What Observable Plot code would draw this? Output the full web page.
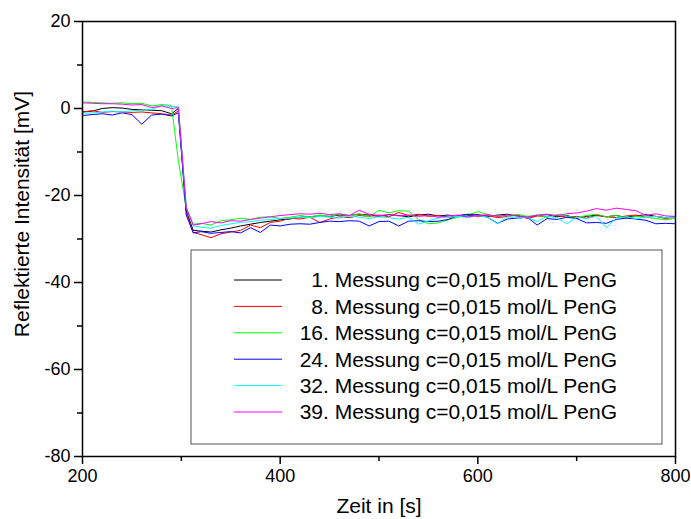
<!DOCTYPE html>
<html>
<head>
<meta charset="utf-8">
<script src="https://cdn.jsdelivr.net/npm/d3@7"></script>
<script src="https://cdn.jsdelivr.net/npm/@observablehq/plot@0.6"></script>
<style>
  html, body { margin: 0; padding: 0; background: #fff; }
  #chart { position: relative; width: 691px; height: 519px; }
</style>
</head>
<body>
<div id="chart"></div>
<script>
const times = [200,210,220,230,240,250,260,270,280,290,297,305,312,320,330,340,350,360,370,380,390,400,410,420,430,440,450,460,470,480,490,500,510,520,530,540,550,560,570,580,590,600,610,620,630,640,650,660,670,680,690,700,710,720,730,740,750,760,770,780,790,800];

const seriesNames = [
  "1. Messung c=0,015 mol/L PenG",
  "8. Messung c=0,015 mol/L PenG",
  "16. Messung c=0,015 mol/L PenG",
  "24. Messung c=0,015 mol/L PenG",
  "32. Messung c=0,015 mol/L PenG",
  "39. Messung c=0,015 mol/L PenG"
];
const seriesColors = ["#000000", "#ff0000", "#00ff00", "#0000ff", "#00ffff", "#ff00ff"];

const m1 = [-0.8,-0.6,0.0,0.2,0.1,-0.2,-0.3,-0.4,-0.5,-1.2,0.0,-23.5,-28.0,-28.2,-28.4,-27.9,-27.5,-27.0,-26.6,-26.2,-25.9,-25.6,-25.4,-25.0,-24.9,-24.7,-24.8,-24.5,-24.6,-24.3,-24.5,-24.8,-24.4,-24.6,-24.9,-24.5,-24.3,-24.7,-24.5,-24.9,-24.6,-24.4,-24.8,-24.5,-24.3,-24.7,-25.0,-24.6,-24.4,-24.9,-24.6,-25.2,-24.8,-24.5,-24.9,-24.6,-25.0,-24.7,-24.4,-24.8,-25.1,-24.9];
const m8 = [-0.8,-0.5,-0.9,-0.7,-0.8,-0.9,-0.8,-1.0,-1.2,-1.5,-0.6,-23.8,-28.5,-29.0,-29.7,-28.8,-28.4,-28.0,-26.8,-27.4,-26.2,-25.9,-25.2,-25.4,-25.0,-26.2,-25.4,-24.9,-25.1,-24.6,-24.8,-24.5,-24.9,-23.9,-24.6,-24.3,-24.8,-24.6,-25.0,-24.7,-24.4,-24.9,-24.6,-25.1,-24.8,-24.5,-25.3,-24.7,-24.9,-24.6,-25.0,-24.8,-25.2,-24.6,-24.9,-25.1,-24.7,-24.5,-25.0,-24.8,-25.3,-25.0];
const m16 = [1.5,1.4,1.3,1.2,1.3,1.1,1.2,0.6,0.9,0.7,-12.0,-23.0,-26.6,-26.4,-26.8,-25.8,-25.6,-25.2,-25.5,-25.0,-24.9,-25.3,-25.0,-24.6,-24.9,-24.5,-24.8,-24.3,-24.7,-24.2,-24.9,-23.4,-24.0,-23.5,-23.6,-25.5,-26.5,-26.3,-25.6,-24.9,-24.5,-23.7,-24.4,-24.8,-24.6,-24.3,-24.8,-24.5,-25.0,-24.4,-24.7,-25.1,-24.6,-24.3,-24.9,-24.6,-25.2,-24.8,-25.0,-25.3,-25.6,-25.2];
const m24 = [-1.6,-1.4,-1.2,-1.5,-1.0,-1.4,-3.6,-1.5,-1.3,-1.7,-1.0,-24.5,-28.6,-28.3,-28.7,-28.5,-28.3,-28.6,-27.4,-28.5,-26.8,-27.0,-26.6,-26.5,-26.6,-26.2,-25.9,-26.0,-25.8,-25.9,-27.0,-26.0,-25.9,-27.0,-25.9,-25.8,-26.0,-25.9,-25.5,-24.6,-24.3,-24.5,-25.0,-26.4,-25.4,-25.2,-25.0,-26.8,-25.3,-25.5,-25.0,-25.3,-26.3,-26.2,-26.4,-25.5,-25.2,-25.4,-25.7,-26.5,-26.4,-26.5];
const m32 = [-1.1,-1.0,-0.8,-0.6,-0.8,-0.5,-0.4,-0.2,0.6,0.5,0.4,-22.5,-27.0,-27.3,-27.5,-26.9,-26.5,-26.2,-26.0,-25.7,-25.5,-25.3,-25.2,-25.0,-25.1,-24.8,-25.0,-25.2,-24.7,-25.0,-25.3,-24.9,-25.1,-25.4,-25.0,-26.6,-25.8,-25.2,-25.0,-24.8,-25.1,-24.6,-25.0,-26.5,-24.9,-25.2,-25.0,-26.0,-24.7,-25.1,-26.5,-25.0,-25.3,-24.8,-27.4,-25.2,-24.9,-25.3,-25.0,-24.8,-25.1,-25.0];
const m39 = [1.3,1.2,1.1,1.1,1.0,0.8,0.9,0.2,0.6,0.0,0.2,-22.8,-26.8,-26.5,-26.0,-26.3,-25.8,-25.9,-25.5,-25.2,-24.9,-24.6,-24.4,-24.2,-24.3,-24.1,-24.4,-24.2,-24.6,-23.4,-24.3,-24.6,-24.4,-24.7,-24.5,-24.8,-24.6,-25.0,-24.7,-24.5,-24.9,-24.6,-24.4,-24.8,-24.5,-24.7,-25.0,-24.5,-24.3,-24.6,-24.2,-24.0,-23.6,-23.0,-23.4,-22.9,-23.2,-23.5,-24.6,-24.2,-24.7,-24.8];

const xMajorTicks = [200, 400, 600, 800];
const xMinorTicks = [300, 500, 700];
const yMajorTicks = [20, 0, -20, -40, -60, -80];
const yMinorTicks = [10, -10, -30, -50, -70];
const xTitle = "Zeit in [s]";
const yTitle = "Reflektierte Intensität [mV]";

const allSeries = [m1, m8, m16, m24, m32, m39];
const rows = [];
allSeries.forEach((vals, s) => {
  vals.forEach((v, i) => rows.push({t: times[i], v, name: seriesNames[s]}));
});

const font = "'Liberation Sans', Arial, sans-serif";

const chart = Plot.plot({
  width: 691,
  height: 519,
  marginLeft: 82,
  marginRight: 16,
  marginTop: 21,
  marginBottom: 63,
  style: {fontFamily: font, fontSize: "18px", color: "#000", background: "#fff"},
  x: {domain: [200, 800]},
  y: {domain: [-80, 20]},
  color: {domain: seriesNames, range: seriesColors},
  marks: [
    Plot.line(rows, {x: "t", y: "v", z: "name", stroke: "name", strokeWidth: 1}),
    Plot.frame({stroke: "#000", strokeWidth: 1.5}),
    Plot.axisX({ticks: xMajorTicks, tickSize: 8, tickPadding: 5, tickFormat: d3.format("d"), label: null, strokeWidth: 1.5}),
    Plot.axisX({ticks: xMinorTicks, tickSize: 5, text: null, label: null, strokeWidth: 1.5}),
    Plot.axisY({ticks: yMajorTicks, tickSize: 8, tickPadding: 4, tickFormat: d => d3.format("d")(d).replace("−", "-"), label: null, strokeWidth: 1.5}),
    Plot.axisY({ticks: yMinorTicks, tickSize: 5, text: null, label: null, strokeWidth: 1.5}),
    Plot.text([xTitle], {frameAnchor: "bottom", dy: 56, fontSize: 21, text: d => d}),
    Plot.text([yTitle], {frameAnchor: "left", textAnchor: "middle", lineAnchor: "middle", dx: -60, dy: -25, rotate: -90, fontSize: 21, text: d => d})
  ]
});
document.getElementById("chart").appendChild(chart);

// Legend box (inside plot area)
const svg = d3.select(chart);
const lg = svg.append("g").attr("font-family", font).attr("font-size", 21);
lg.append("rect").attr("x", 191).attr("y", 250).attr("width", 471).attr("height", 194)
  .attr("fill", "#fff").attr("stroke", "#555").attr("stroke-width", 1);
seriesNames.forEach((name, i) => {
  const yy = 280 + i * 26.4;
  lg.append("line").attr("x1", 234).attr("x2", 282).attr("y1", yy).attr("y2", yy)
    .attr("stroke", seriesColors[i]).attr("stroke-width", 1);
  lg.append("text").attr("x", 617).attr("y", yy).attr("dy", "0.35em")
    .attr("text-anchor", "end").attr("fill", "#000").text(name);
});
</script>
</body>
</html>
